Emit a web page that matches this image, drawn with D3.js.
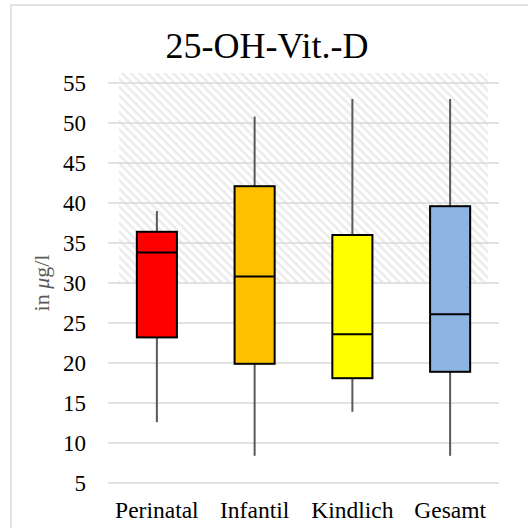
<!DOCTYPE html>
<html>
<head>
<meta charset="utf-8">
<script src="https://cdn.jsdelivr.net/npm/d3@7"></script>
<style>
  body { margin: 0; background: #fff; }
</style>
</head>
<body>
<div id="chart"></div>
<script>
const categories = ['Perinatal', 'Infantil', 'Kindlich', 'Gesamt']
const whiskerLow = [12.6, 8.4, 13.9, 8.4]
const q1 = [23.2, 19.9, 18.1, 18.9]
const median = [33.8, 30.8, 23.6, 26.1]
const q3 = [36.4, 42.1, 36.0, 39.6]
const whiskerHigh = [39.0, 50.8, 53.0, 53.0]
const boxColors = ['#FF0000', '#FFC000', '#FFFF00', '#8DB4E2']
const yTicks = [5, 10, 15, 20, 25, 30, 35, 40, 45, 50, 55]
const refBand = [30, 56.25]

const W = 528, H = 528
const margin = { top: 83, right: 29, bottom: 45, left: 108 }
const FONT = 'Liberation Serif'

const svg = d3.select('#chart').append('svg')
  .attr('width', W)
  .attr('height', H)

// hatch pattern for the reference range
const pat = svg.append('defs').append('pattern')
  .attr('id', 'hatch')
  .attr('patternUnits', 'userSpaceOnUse')
  .attr('width', 6)
  .attr('height', 6)
  .attr('patternTransform', 'rotate(45)')
pat.append('rect').attr('width', 6).attr('height', 6).attr('fill', '#fff')
pat.append('line')
  .attr('x1', 0).attr('y1', 0).attr('x2', 6).attr('y2', 0)
  .attr('stroke', '#ebebeb').attr('stroke-width', 5)

// outer frame (cut off at right/bottom)
svg.append('rect')
  .attr('x', 11).attr('y', 5)
  .attr('width', W).attr('height', H)
  .attr('fill', 'none')
  .attr('stroke', '#d9d9d9')
  .attr('stroke-width', 1.5)

const x = d3.scaleBand()
  .domain(categories)
  .range([margin.left, W - margin.right])
  .padding(0)

const y = d3.scaleLinear()
  .domain([5, 55])
  .range([H - margin.bottom, margin.top])

const g = svg.append('g')

// reference band
const inset = x.bandwidth() * 0.113
g.append('rect')
  .attr('x', x.range()[0] + inset)
  .attr('width', x.range()[1] - x.range()[0] - 2 * inset)
  .attr('y', y(refBand[1]))
  .attr('height', y(refBand[0]) - y(refBand[1]))
  .attr('fill', 'url(#hatch)')

// gridlines
g.selectAll('.grid')
  .data(yTicks)
  .enter()
  .append('line')
  .attr('x1', x.range()[0])
  .attr('x2', x.range()[1])
  .attr('y1', d => y(d))
  .attr('y2', d => y(d))
  .attr('stroke', '#d9d9d9')
  .attr('stroke-width', 1.5)

// y axis labels
const yAxis = d3.axisLeft(y).tickValues(yTicks).tickSize(0).tickPadding(22)
const ya = g.append('g')
  .attr('transform', `translate(${margin.left}, 0)`)
  .call(yAxis)
ya.attr('font-family', FONT)
ya.select('.domain').remove()
ya.selectAll('text')
  .attr('font-family', FONT)
  .attr('font-size', 23)
  .attr('fill', '#000')

// x axis labels
const xAxis = d3.axisBottom(x).tickSize(0).tickPadding(18)
const xa = g.append('g')
  .attr('transform', `translate(0, ${y(5)})`)
  .call(xAxis)
xa.attr('font-family', FONT)
xa.select('.domain').remove()
xa.selectAll('text')
  .attr('font-family', FONT)
  .attr('font-size', 23.5)
  .attr('fill', '#000')

const boxW = x.bandwidth() * 0.41
const data = categories.map((c, i) => ({
  c, lo: whiskerLow[i], q1: q1[i], med: median[i], q3: q3[i], hi: whiskerHigh[i], color: boxColors[i]
}))
const cx = d => x(d.c) + x.bandwidth() / 2

// whiskers
g.selectAll('.wlo')
  .data(data)
  .enter()
  .append('line')
  .attr('x1', cx).attr('x2', cx)
  .attr('y1', d => y(d.lo)).attr('y2', d => y(d.q1))
  .attr('stroke', '#595959').attr('stroke-width', 2)
g.selectAll('.whi')
  .data(data)
  .enter()
  .append('line')
  .attr('x1', cx).attr('x2', cx)
  .attr('y1', d => y(d.hi)).attr('y2', d => y(d.q3))
  .attr('stroke', '#595959').attr('stroke-width', 2)

// boxes
g.selectAll('.box')
  .data(data)
  .enter()
  .append('rect')
  .attr('x', d => cx(d) - boxW / 2)
  .attr('width', boxW)
  .attr('y', d => y(d.q3))
  .attr('height', d => y(d.q1) - y(d.q3))
  .attr('fill', d => d.color)
  .attr('stroke', '#000')
  .attr('stroke-width', 2)

// medians
g.selectAll('.med')
  .data(data)
  .enter()
  .append('line')
  .attr('x1', d => cx(d) - boxW / 2)
  .attr('x2', d => cx(d) + boxW / 2)
  .attr('y1', d => y(d.med)).attr('y2', d => y(d.med))
  .attr('stroke', '#000').attr('stroke-width', 2)

// axis title
const yl = svg.append('text')
  .attr('text-anchor', 'middle')
  .attr('transform', `translate(49, 283) rotate(-90)`)
  .attr('font-family', FONT)
  .attr('font-size', 22)
  .attr('fill', '#595959')
yl.append('tspan').text('in ')
yl.append('tspan').attr('font-style', 'italic').text('μ')
yl.append('tspan').text('g/l')

// title
svg.append('text')
  .attr('x', 267)
  .attr('y', 58)
  .attr('text-anchor', 'middle')
  .attr('font-family', FONT)
  .attr('font-size', 36)
  .attr('fill', '#000')
  .text('25-OH-Vit.-D')
</script>
</body>
</html>
